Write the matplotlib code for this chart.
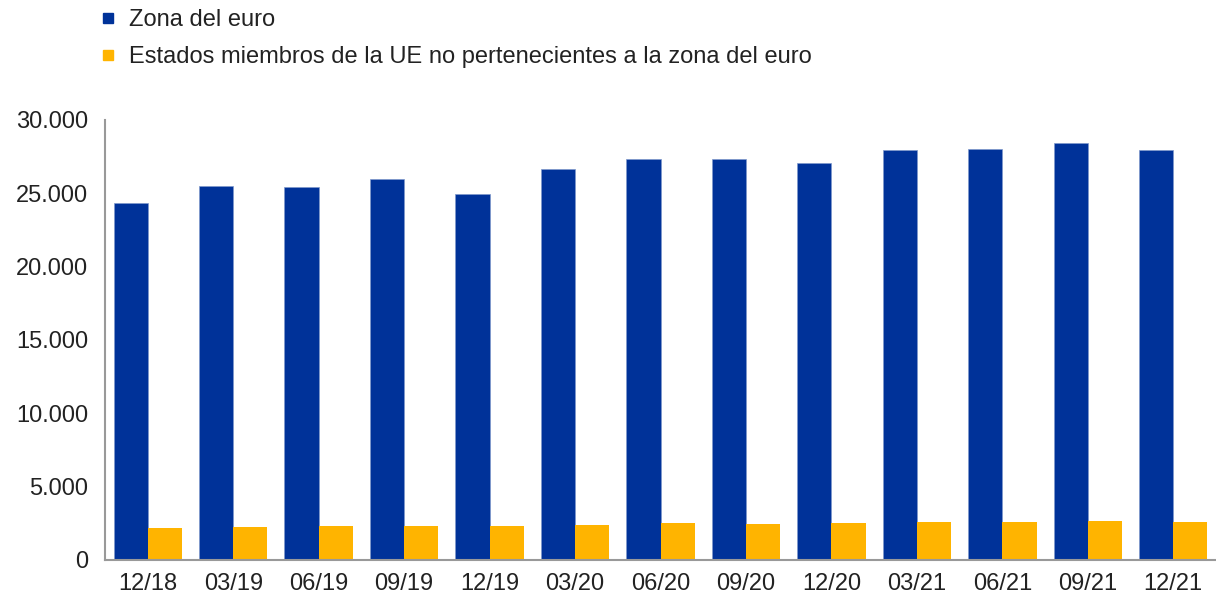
import matplotlib
matplotlib.use("Agg")
import matplotlib.pyplot as plt
from matplotlib.lines import Line2D
import numpy as np

plt.rcParams['font.family'] = ['Liberation Sans', 'DejaVu Sans']

categories = ["12/18", "03/19", "06/19", "09/19", "12/19", "03/20", "06/20",
              "09/20", "12/20", "03/21", "06/21", "09/21", "12/21"]
euro_area = [24320, 25500, 25430, 26000, 24980, 26680, 27320,
             27360, 27050, 27950, 28050, 28410, 27930]
non_euro = [2160, 2250, 2300, 2340, 2300, 2410, 2500,
            2480, 2500, 2590, 2610, 2640, 2610]
series_names = ["Zona del euro",
                "Estados miembros de la UE no pertenecientes a la zona del euro"]
yticks = [0, 5000, 10000, 15000, 20000, 25000, 30000]
ytick_labels = ["0", "5.000", "10.000", "15.000", "20.000", "25.000", "30.000"]

blue = "#003299"
yellow = "#FFB400"
fs = 17

fig = plt.figure(figsize=(12.16, 6.02), dpi=100)
ax = fig.add_axes([105/1216, 42/602, 1111/1216, 440/602])

x = np.arange(len(categories))
w = 0.4
ax.bar(x - w/2, euro_area, width=w, color=blue, edgecolor="#7f99cc", linewidth=0.5)
ax.bar(x + w/2, non_euro, width=w, color=yellow, linewidth=0)

ax.set_xlim(-0.5, len(categories) - 0.5)
ax.set_ylim(0, 30000)
ax.set_yticks(yticks)
ax.set_yticklabels(ytick_labels)
ax.set_xticks(x)
ax.set_xticklabels(categories)
ax.tick_params(axis='both', length=0, labelsize=fs, colors="#222222")
ax.tick_params(axis='y', pad=12)
ax.tick_params(axis='x', pad=9)
for s in ["top", "right"]:
    ax.spines[s].set_visible(False)
for s in ["left", "bottom"]:
    ax.spines[s].set_color("#999999")
    ax.spines[s].set_linewidth(1.5)

handles = [Line2D([0], [0], marker='s', linestyle='none', color=blue, markersize=7.5),
           Line2D([0], [0], marker='s', linestyle='none', color=yellow, markersize=7.5)]
fig.legend(handles, series_names, loc="upper left", bbox_to_anchor=(101/1216, 1 - 9/602),
           frameon=False, fontsize=fs, handletextpad=0.6, labelspacing=0.63,
           handlelength=0.6, borderpad=0, borderaxespad=0, labelcolor="#222222")

fig.savefig("out.png", dpi=100)
